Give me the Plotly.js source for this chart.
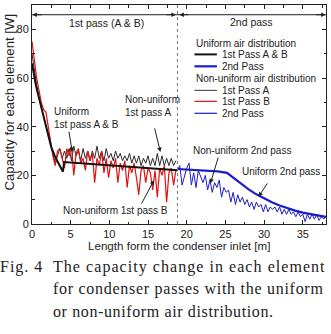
<!DOCTYPE html>
<html>
<head>
<meta charset="utf-8">
<script src="https://cdn.plot.ly/plotly-3.0.1.min.js"></script>
<style>
  html, body { margin: 0; padding: 0; background: #fff; }
  #wrap { position: relative; width: 331px; height: 334px; overflow: hidden; }
  #chart { position: absolute; left: 0; top: 0; width: 331px; height: 334px; }
  .cap { position: absolute; font-family: "Liberation Serif", "DejaVu Serif", serif;
         font-size: 16px; color: #222; white-space: nowrap; line-height: 1; }
</style>
</head>
<body>
<div id="wrap">
  <div id="chart"></div>
  <div class="cap" style="left:0px; top:259px; letter-spacing:1px;">Fig. 4</div>
  <div class="cap" style="left:53px; top:259px; letter-spacing:1.05px;">The capacity change in each element</div>
  <div class="cap" style="left:53px; top:281px; letter-spacing:0.72px;">for condenser passes with the uniform</div>
  <div class="cap" style="left:53px; top:304px; letter-spacing:0.62px;">or non-uniform air distribution.</div>
</div>
<script>
// Uniform air distribution, 1st pass A & B (smooth curve)
const uni1X = [0, 0.5, 1, 1.5, 2, 2.5, 3, 3.5, 4, 4.15, 18.8];
const uni1Y = [66, 57, 50.5, 44, 38.5, 31.5, 27.5, 24.5, 21.5, 25.5, 22.1];

// Uniform air distribution, 2nd pass
const uni2X = [18.8, 20, 22, 24, 25.2, 26, 27, 28, 29, 30, 31, 32, 33, 34, 35, 36, 37, 38];
const uni2Y = [22.6, 22.4, 22.1, 21.6, 21, 19, 16.5, 14.2, 12.2, 10.4, 8.9, 7.6, 6.5, 5.5, 4.7, 4, 3.4, 2.9];

// Element spacing along the tube [m]
const elemStep = 0.3;
const pass1Start = 0;
const pass2Start = 18.8;

// Non-uniform air distribution, 1st pass A (one value per element)
const nonAY = [70, 63, 57, 52, 48, 44, 40, 36, 32, 28, 25, 28, 31, 27, 30, 27, 31, 26, 32, 28,
               30, 26, 31, 27, 30, 26, 30, 27, 32, 27, 30, 26, 31, 27, 29, 26, 30, 27, 29, 26,
               28, 26, 29, 25, 28, 25, 28, 24, 27, 25, 28, 24, 27, 24, 29, 24, 28, 24, 27, 24,
               27, 24, 26];

// Non-uniform air distribution, 1st pass B
const nonBY = [75, 67, 60, 55, 50, 47, 46, 40, 33, 28, 24, 30, 31, 27, 23, 31, 28, 32, 20, 29,
               31, 25, 27, 22, 30, 26, 29, 17, 27, 24, 30, 21, 27, 19, 26, 23, 27, 17, 25, 22,
               26, 15, 24, 21, 25, 19, 12, 22, 24, 17, 23, 21, 14, 22, 11, 23, 20, 24, 9, 21,
               23, 16, 22];

// Non-uniform air distribution, 2nd pass
const non2Y = [22, 24, 16, 20, 23, 25, 16, 21, 15, 22, 19, 17, 20, 14, 18, 13, 17, 15, 18, 11,
               15, 13, 14, 9, 13, 8, 12, 9, 11, 8, 10, 7, 9, 6, 9, 7, 8, 5, 8, 5,
               7, 6, 7, 5, 7, 4, 6, 4, 6, 4, 5, 3, 5, 3, 4, 1, 4, 2, 4, 2,
               4, 1.5, 3, 2, 3];

const black = '#111111';
const grayA = '#2a2a2a';
const red = '#e01010';
const blue = '#1c1cc8';
const txt = '#222222';

const traces = [
  { x0: pass1Start, dx: elemStep, y: nonAY, mode: 'lines', line: { color: grayA, width: 1 } },
  { x0: pass1Start, dx: elemStep, y: nonBY, mode: 'lines', line: { color: red, width: 1.2 } },
  { x: uni1X, y: uni1Y, mode: 'lines', line: { color: black, width: 2 } },
  { x0: pass2Start, dx: elemStep, y: non2Y, mode: 'lines', line: { color: blue, width: 1 } },
  { x: uni2X, y: uni2Y, mode: 'lines', line: { color: blue, width: 2.2 } }
];

const family = 'Liberation Sans, Arial, sans-serif';
const font = { family, size: 11, color: txt };
const noteFont = { family, size: 10, color: txt };
const passFont = { family, size: 10.5, color: txt };

function label(x, y, text, extra) {
  return Object.assign({ x, y, xref: 'x', yref: 'y', text, showarrow: false,
    xanchor: 'left', yanchor: 'middle', align: 'left', font: noteFont }, extra || {});
}
function arrow(x, y, ax, ay) {
  return { x, y, ax, ay, xref: 'x', yref: 'y', axref: 'x', ayref: 'y', text: '',
    showarrow: true, arrowhead: 2, arrowsize: 0.9, arrowwidth: 1, arrowcolor: txt };
}

// Legend block
const legX0 = 21.0, legX1 = 23.9, legTx = 24.3;
const legendRows = [
  { y: 74.3, text: 'Uniform air distribution', header: true },
  { y: 69.7, text: '1st Pass A & B', color: black, width: 2 },
  { y: 64.8, text: '2nd Pass', color: blue, width: 2.2 },
  { y: 59.8, text: 'Non-uniform air distribution', header: true },
  { y: 54.9, text: '1st Pass A', color: '#555555', width: 1.2 },
  { y: 50.4, text: '1st Pass B', color: red, width: 1.2 },
  { y: 45.5, text: '2nd Pass', color: blue, width: 1.2 }
];

const annotations = [
  label(9.6, 82.8, '1st pass (A & B)', { xanchor: 'center', font: passFont }),
  label(28.4, 83.0, '2nd pass', { xanchor: 'center', font: passFont }),
  label(2.6, 43.4, 'Uniform<br>1st pass A & B'),
  label(11.8, 48.6, 'Non-uniform<br>1st pass A'),
  label(3.8, 5.7, 'Non-uniform 1st pass B'),
  label(20.6, 30.3, 'Non-uniform 2nd pass'),
  label(26.9, 21.5, 'Uniform 2nd pass'),
  arrow(5.2, 29.6, 4.75, 38.5),
  arrow(16.6, 29.6, 15.8, 39.9),
  arrow(15.77, 18.0, 14.06, 7.8),
  arrow(23.06, 16.7, 24.12, 27.9),
  arrow(29.27, 11.2, 30.55, 17.3),
  // span arrows along the pass indicator line
  arrow(0.05, 86, 1.5, 86),
  arrow(18.6, 86, 17.2, 86),
  arrow(19.05, 86, 20.4, 86),
  arrow(37.95, 86, 36.5, 86),
  // axis titles
  { xref: 'paper', yref: 'paper', x: 0.5, y: -0.096, text: 'Length form the condenser inlet [m]',
    showarrow: false, xanchor: 'center', yanchor: 'middle', font: Object.assign({}, font, { size: 11.6 }) },
  { xref: 'paper', yref: 'paper', x: -0.078, y: 0.555, text: 'Capacity for each element [W]',
    showarrow: false, textangle: -90, xanchor: 'center', yanchor: 'middle', font: Object.assign({}, font, { size: 13.2 }) }
];
legendRows.forEach(r => {
  annotations.push(label(r.header ? legX0 : legTx, r.y, r.text));
});

const shapes = [
  { type: 'line', xref: 'x', yref: 'y', x0: 18.8, x1: 18.8, y0: 0, y1: 90,
    line: { color: '#777777', width: 1, dash: 'dot' } },
  { type: 'line', xref: 'x', yref: 'y', x0: 0, x1: 38, y0: 86, y1: 86,
    line: { color: txt, width: 1 } }
];
legendRows.filter(r => !r.header).forEach(r => {
  shapes.push({ type: 'line', xref: 'x', yref: 'y', x0: legX0, x1: legX1, y0: r.y, y1: r.y,
    line: { color: r.color, width: r.width } });
});

const axisBase = {
  showgrid: false, zeroline: false, showline: true, linecolor: '#222', linewidth: 1,
  mirror: 'allticks', ticks: 'inside', ticklen: 4, tickwidth: 1, tickcolor: '#222',
  tickfont: font, fixedrange: true
};

const layout = {
  width: 331, height: 334,
  margin: { l: 32, r: 5, t: 5, b: 110 },
  paper_bgcolor: 'white', plot_bgcolor: 'white',
  showlegend: false,
  font,
  xaxis: Object.assign({}, axisBase, { range: [0, 38], dtick: 5, tick0: 0,
    minor: { ticks: 'inside', dtick: 2.5, ticklen: 2.5, tickcolor: '#222' } }),
  yaxis: Object.assign({}, axisBase, { range: [0, 90], dtick: 20, tick0: 0,
    minor: { ticks: 'inside', dtick: 10, ticklen: 2.5, tickcolor: '#222' } }),
  annotations, shapes
};

Plotly.newPlot('chart', traces, layout, { staticPlot: true, displayModeBar: false });
</script>
</body>
</html>
